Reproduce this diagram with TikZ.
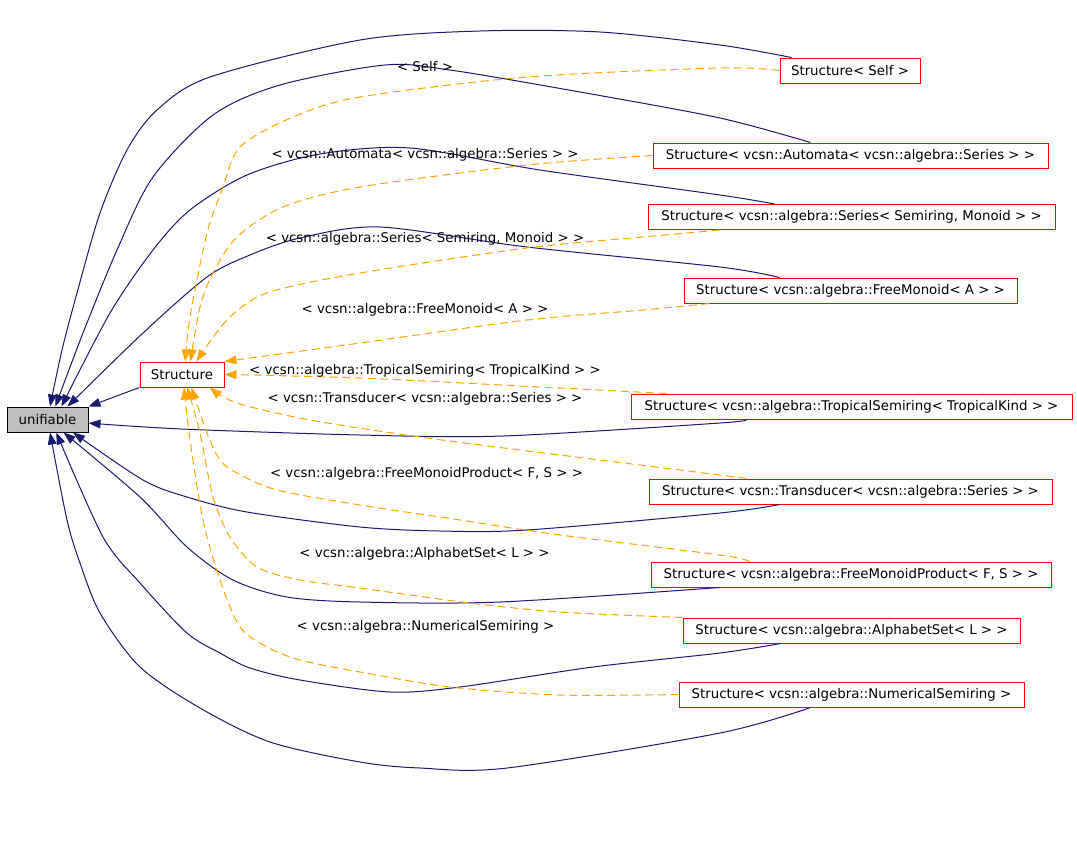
\documentclass[tikz,border=0pt]{standalone}
\usepackage{fontspec}
\setmainfont{DejaVu Sans}
\usetikzlibrary{arrows.meta,calc}
\definecolor{navy}{HTML}{191970}
\definecolor{dorange}{HTML}{FFA500}
\definecolor{boxgray}{HTML}{BFBFBF}
\begin{document}
\begin{tikzpicture}[x=0.75pt,y=-0.75pt,
    every node/.style={font=\fontsize{10}{12}\selectfont},
    cls/.style={draw=red, line width=0.75pt, minimum height=18.75pt, inner sep=0pt},
    boxw/.style={minimum width=#1*0.75pt},
    inh/.style={draw=navy, line width=0.75pt, -{Triangle[length=9pt,width=6.5pt]}},
    tmpl/.style={draw=dorange, line width=0.75pt, dash pattern=on 6pt off 3.5pt, -{Triangle[length=9pt,width=6.5pt]}},
    lbl/.style={inner sep=0pt}]
    \useasboundingbox (0,0) rectangle (1077,851);

    \node[cls, boxw=81, draw=black, fill=boxgray] (unifiable) at (47.5,419.5) {unifiable};
    \node[cls, boxw=84] (structure) at (182,374.5) {Structure};

    \node[cls, boxw=140] (self) at (850,70.5) {Structure< Self >};
    \node[cls, boxw=395] (automata) at (850.5,155.5) {Structure< vcsn::Automata< vcsn::algebra::Series > >};
    \node[cls, boxw=407] (series) at (851.5,217) {Structure< vcsn::algebra::Series< Semiring, Monoid > >};
    \node[cls, boxw=333] (freemonoid) at (850.5,290.5) {Structure< vcsn::algebra::FreeMonoid< A > >};
    \node[cls, boxw=441] (tropical) at (851.5,406.5) {Structure< vcsn::algebra::TropicalSemiring< TropicalKind > >};
    \node[cls, boxw=403] (transducer) at (850.5,491.5) {Structure< vcsn::Transducer< vcsn::algebra::Series > >};
    \node[cls, boxw=400] (fmp) at (851,574.5) {Structure< vcsn::algebra::FreeMonoidProduct< F, S > >};
    \node[cls, boxw=337] (alphabet) at (851.5,630.5) {Structure< vcsn::algebra::AlphabetSet< L > >};
    \node[cls, boxw=345] (numerical) at (851.5,694.5) {Structure< vcsn::algebra::NumericalSemiring >};

    \coordinate (self-u) at ($(self.north west)+(12,0)$);
    \coordinate (automata-u) at ($(automata.north west)+(158,0)$);
    \coordinate (series-u) at ($(series.north west)+(127,0)$);
    \coordinate (freemonoid-u) at ($(freemonoid.north west)+(96,0)$);
    \coordinate (tropical-u) at ($(tropical.south west)+(115,0)$);
    \coordinate (transducer-u) at ($(transducer.south west)+(131,0)$);
    \coordinate (fmp-u) at ($(fmp.south west)+(69,0)$);
    \coordinate (alphabet-u) at ($(alphabet.south west)+(98,0)$);
    \coordinate (numerical-u) at ($(numerical.south west)+(132,0)$);

    \coordinate (series-s) at ($(series.south west)+(72,0)$);
    \coordinate (freemonoid-s) at ($(freemonoid.south west)+(26,0)$);
    \coordinate (tropical-s) at ($(tropical.north west)+(36,0)$);
    \coordinate (transducer-s) at ($(transducer.north west)+(98,0)$);
    \coordinate (fmp-s) at ($(fmp.north west)+(99,0)$);

    \draw[inh] (structure.south west) -- (unifiable.north east);
    \draw[inh] plot[smooth] coordinates {(self-u) (720,45) (600,32) (480,31) (360,40) (210,77) (157,110) (127,150) (100,213) (77,293) (62,350) (unifiable.79)};
    \draw[inh] plot[smooth] coordinates {(automata-u) (720,118) (580,92) (450,70) (385,65) (280,85) (213,115) (153,177) (117,250) (83,333) (unifiable.59)};
    \draw[inh] plot[smooth] coordinates {(series-u) (720,195) (540,170) (410,148) (320,154) (247,175) (190,210) (153,250) (110,313) (unifiable.43)};
    \draw[inh] plot[smooth] coordinates {(freemonoid-u) (720,267) (527,247) (380,227) (300,238) (250,255) (207,277) (143,333) (unifiable.33)};
    \draw[inh] plot[smooth] coordinates {(tropical-u) (720,423) (503,436) (360,435) (182,429) (unifiable.-5)};
    \draw[inh] plot[smooth] coordinates {(transducer-u) (720,513) (527,530) (440,531) (360,527) (247,512) (187,497) (143,480) (unifiable.-27)};
    \draw[inh] plot[smooth] coordinates {(fmp-u) (500,602) (360,602) (287,597) (233,580) (187,547) (140,497) (unifiable.-39)};
    \draw[inh] plot[smooth] coordinates {(alphabet-u) (720,653) (593,667) (460,687) (390,692) (300,680) (250,668) (220,653) (187,633) (140,583) (103,537) (unifiable.-56)};
    \draw[inh] plot[smooth] coordinates {(numerical-u) (720,733) (507,768) (420,768) (360,762) (270,742) (200,708) (140,667) (100,613) (80,563) (67,520) (unifiable.-79)};

    \draw[tmpl] plot[smooth] coordinates {(self.west) (720,68) (527,77) (360,97) (293,117) (240,147) (222,190) (207,233) (190,317) (structure.76)};
    \draw[tmpl] plot[smooth] coordinates {(automata.west) (527,165) (360,187) (283,207) (237,237) (213,273) (200,307) (structure.57)};
    \draw[tmpl] plot[smooth] coordinates {(series-s) (643,237) (527,248) (360,273) (267,293) (227,320) (structure.42)};
    \draw[tmpl] plot[smooth] coordinates {(freemonoid-s) (643,310) (527,320) (360,343) (structure.north east)};
    \draw[tmpl] plot[smooth] coordinates {(tropical-s) (540,387) (360,378) (structure.east)};
    \draw[tmpl] plot[smooth] coordinates {(transducer-s) (720,475) (560,455) (427,438) (310,420) (237,403) (structure.-25)};
    \draw[tmpl] plot[smooth] coordinates {(fmp-s) (720,555) (560,535) (460,520) (360,505) (277,490) (237,473) (220,460) (207,433) (structure.-54)};
    \draw[tmpl] plot[smooth] coordinates {(alphabet.north west) (560,612) (470,603) (360,588) (300,580) (257,567) (230,537) (213,497) (200,433) (structure.-68)};
    \draw[tmpl] plot[smooth] coordinates {(numerical.west) (560,695) (450,687) (360,672) (300,660) (267,647) (240,627) (220,580) (203,520) (190,440) (structure.-81)};

    \node[lbl] (l-self) at (425,67) {< Self >};
    \node[lbl] (l-automata) at (425,155) {< vcsn::Automata< vcsn::algebra::Series > >};
    \node[lbl] (l-series) at (425,239) {< vcsn::algebra::Series< Semiring, Monoid > >};
    \node[lbl] (l-freemonoid) at (425,310) {< vcsn::algebra::FreeMonoid< A > >};
    \node[lbl] (l-tropical) at (425,370.5) {< vcsn::algebra::TropicalSemiring< TropicalKind > >};
    \node[lbl] (l-transducer) at (425,399) {< vcsn::Transducer< vcsn::algebra::Series > >};
    \node[lbl] (l-fmp) at (426.5,474) {< vcsn::algebra::FreeMonoidProduct< F, S > >};
    \node[lbl] (l-alphabet) at (424.5,554) {< vcsn::algebra::AlphabetSet< L > >};
    \node[lbl] (l-numerical) at (425.5,627) {< vcsn::algebra::NumericalSemiring >};
\end{tikzpicture}
\end{document}
